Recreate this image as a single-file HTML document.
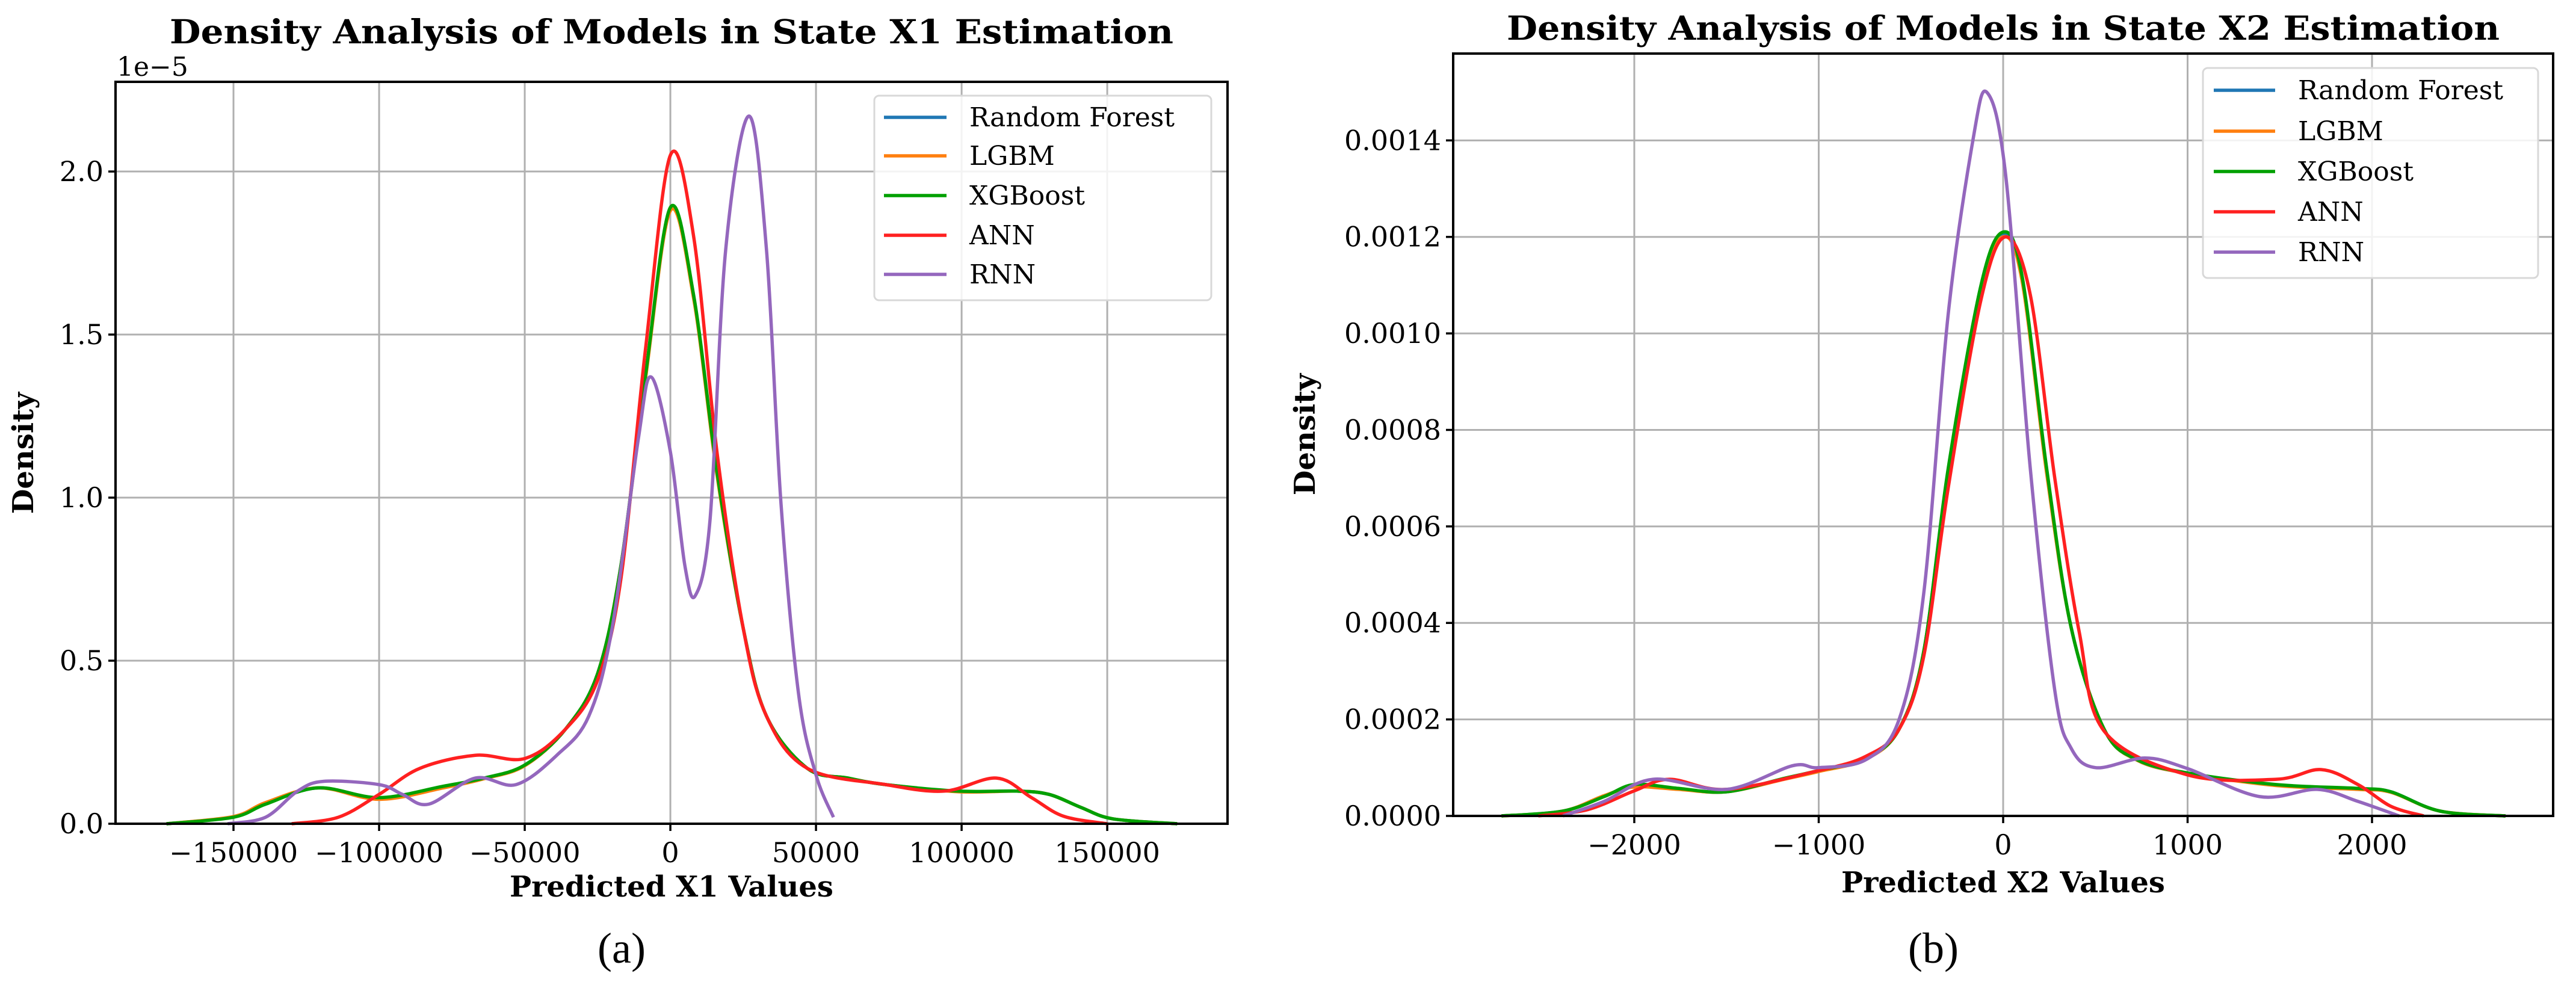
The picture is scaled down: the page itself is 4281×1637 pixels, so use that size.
<!DOCTYPE html>
<html><head><meta charset="utf-8"><style>
html,body{margin:0;padding:0;background:#fff;}
svg{display:block;font-family:"DejaVu Serif","Liberation Serif",serif;}
</style></head><body>
<svg id="fig" width="4281" height="1637" viewBox="0 0 4281 1637" xmlns="http://www.w3.org/2000/svg"></svg>
<script>
// ---- Panel A data (x in units, y in 1e-5) ----
const aTicksX = [-150000,-100000,-50000,0,50000,100000,150000];
const aTickLabelsX = ["\u2212150000","\u2212100000","\u221250000","0","50000","100000","150000"];
const aTicksY = [0,0.5,1.0,1.5,2.0];
const aTickLabelsY = ["0.0","0.5","1.0","1.5","2.0"];
const aXGBx = [-173000,-150000,-139000,-121000,-100000,-78000,-64000,-50000,-36000,-25000,-17000,-8600,0,8000,16000,25000,33000,47000,61000,74000,99000,119000,130000,141000,152000,174000];
const aXGBy = [0,0.02,0.06,0.11,0.08,0.115,0.14,0.18,0.29,0.46,0.79,1.37,1.89,1.62,1.08,0.6,0.33,0.17,0.14,0.12,0.1,0.1,0.09,0.05,0.015,0];
const aLGBy = [0,0.022,0.065,0.11,0.075,0.11,0.138,0.178,0.29,0.46,0.79,1.36,1.88,1.61,1.07,0.6,0.33,0.17,0.14,0.12,0.098,0.1,0.09,0.05,0.015,0];
const aRFy  = [0,0.021,0.062,0.11,0.078,0.112,0.139,0.179,0.29,0.46,0.79,1.365,1.885,1.615,1.075,0.6,0.33,0.17,0.14,0.12,0.099,0.1,0.09,0.05,0.015,0];
const aANNx = [-130000,-114000,-100000,-86000,-67000,-50000,-36000,-25000,-17000,-8600,0,8000,16000,25000,33000,47000,74000,94000,112000,124000,135000,150000];
const aANNy = [0,0.02,0.09,0.17,0.21,0.2,0.29,0.44,0.75,1.45,2.05,1.8,1.14,0.6,0.33,0.17,0.12,0.1,0.14,0.08,0.023,0];
const aRNNx = [-152000,-139000,-128000,-119000,-100000,-92000,-83000,-67000,-53000,-39000,-28000,-20000,-11000,-6600,0,5000,8600,13600,19000,27000,33000,38000,44000,50000,56000];
const aRNNy = [0,0.02,0.1,0.13,0.12,0.09,0.06,0.14,0.12,0.21,0.33,0.6,1.18,1.37,1.14,0.79,0.7,0.93,1.76,2.17,1.76,0.98,0.4,0.15,0.02];
// ---- Panel B data ----
const bTicksX = [-2000,-1000,0,1000,2000];
const bTickLabelsX = ["\u22122000","\u22121000","0","1000","2000"];
const bTicksY = [0,0.0002,0.0004,0.0006,0.0008,0.0010,0.0012,0.0014];
const bTickLabelsY = ["0.0000","0.0002","0.0004","0.0006","0.0008","0.0010","0.0012","0.0014"];
const bXGBx = [-2720,-2387,-2164,-2000,-1760,-1500,-1187,-1000,-742,-564,-431,-298,-120,0,102,236,369,547,724,1000,1480,1924,2102,2369,2724];
const bXGBy = [0,0.00001,0.00004,0.000065,0.000057,0.00005,0.000078,0.000094,0.00012,0.00018,0.00034,0.00072,0.0011,0.00121,0.00112,0.00072,0.00039,0.00018,0.000117,0.000089,0.000065,0.000057,0.00005,0.00001,0];
const bLGBy = [0,0.00001,0.000042,0.00006,0.000055,0.00005,0.000076,0.000092,0.000118,0.00018,0.00034,0.00071,0.00109,0.0012,0.00111,0.00071,0.00039,0.00018,0.000116,0.000088,0.000063,0.000055,0.000049,0.00001,0];
const bRFy  = [0,0.00001,0.000041,0.000062,0.000056,0.00005,0.000077,0.000093,0.000119,0.00018,0.00034,0.000715,0.001095,0.001205,0.001115,0.000715,0.00039,0.00018,0.000116,0.000088,0.000064,0.000056,0.00005,0.00001,0];
const bANNx = [-2520,-2253,-2000,-1809,-1500,-1000,-742,-564,-431,-298,-120,13,147,280,413,547,1000,1480,1724,1924,2102,2280];
const bANNy = [0,0.000013,0.000052,0.000076,0.000055,0.000094,0.000124,0.00018,0.00033,0.00068,0.00107,0.0012,0.00108,0.0007,0.00038,0.000176,0.000085,0.000076,0.000096,0.000065,0.00002,0];
const bRNNx = [-2387,-2164,-1898,-1500,-1142,-1000,-742,-564,-431,-298,-164,-89,13,147,280,369,502,769,1000,1391,1702,1924,2147];
const bRNNy = [0,0.00003,0.000076,0.000055,0.000104,0.0001,0.000117,0.0002,0.00046,0.00104,0.0014,0.0015,0.00133,0.00072,0.00026,0.00014,0.0001,0.00012,0.000098,0.00004,0.000055,0.00003,0];

const legendNames = ["Random Forest","LGBM","XGBoost","ANN","RNN"];
const colors = ["#1f77b4","#ff7f0e","#2ca02c","#ff2020","#9467bd"];
const greenC = "#00a000";

const NS = "http://www.w3.org/2000/svg";
const svg = document.getElementById('fig');
function mk(tag, attrs, parent){const e=document.createElementNS(NS,tag);for(const k in attrs)e.setAttribute(k,attrs[k]);(parent||svg).appendChild(e);return e;}
function smooth(pts){
  let d="M"+pts[0][0].toFixed(1)+","+pts[0][1].toFixed(1);
  for(let i=0;i<pts.length-1;i++){
    const p0=pts[Math.max(0,i-1)],p1=pts[i],p2=pts[i+1],p3=pts[Math.min(pts.length-1,i+2)];
    const c1=[p1[0]+(p2[0]-p0[0])/6,p1[1]+(p2[1]-p0[1])/6];
    const c2=[p2[0]-(p3[0]-p1[0])/6,p2[1]-(p3[1]-p1[1])/6];
    d+=" C"+c1[0].toFixed(1)+","+c1[1].toFixed(1)+" "+c2[0].toFixed(1)+","+c2[1].toFixed(1)+" "+p2[0].toFixed(1)+","+p2[1].toFixed(1);
  }
  return d;
}

function panel(cfg){
  const g=mk('g',{});
  
  
  const {L,R,T,B,x0,x1,y0,y1}=cfg;
  const sx=v=>L+(v-x0)/(x1-x0)*(R-L);
  const sy=v=>B-(v-y0)/(y1-y0)*(B-T);
  // grid
  cfg.ticksX.forEach((t,i)=>{
    const l=mk('line',{x1:sx(t),x2:sx(t),y1:T,y2:B,stroke:"#b0b0b0","stroke-width":3},g);
    
    
    const tk=mk('line',{x1:sx(t),x2:sx(t),y1:B,y2:B+12,stroke:"#000","stroke-width":3.5},g);
    
    
    const tx=mk('text',{x:sx(t),y:B+64,"text-anchor":"middle","font-size":46,fill:"#000"},g);
    tx.textContent=cfg.labelsX[i];
    
    
  });
  cfg.ticksY.forEach((t,i)=>{
    const l=mk('line',{x1:L,x2:R,y1:sy(t),y2:sy(t),stroke:"#b0b0b0","stroke-width":3},g);
    
    
    const tk=mk('line',{x1:L-12,x2:L,y1:sy(t),y2:sy(t),stroke:"#000","stroke-width":3.5},g);
    
    
    const tx=mk('text',{x:L-20,y:sy(t)+16,"text-anchor":"end","font-size":46,fill:"#000"},g);
    tx.textContent=cfg.labelsY[i];
    
    
  });
  // series
  cfg.series.forEach(s=>{
    const pts=s.x.map((v,i)=>[sx(v),sy(s.y[i])]);
    const p=mk('path',{d:smooth(pts),fill:"none",stroke:s.c,"stroke-width":5.5,"stroke-linejoin":"round"},g);
    
    
  });
  const fr=mk('rect',{x:L,y:T,width:R-L,height:B-T,fill:"none",stroke:"#000","stroke-width":4},g);
  
  
  // legend
  const lg=mk('g',{},g);
  
  
  const Lg=cfg.leg;
  mk('rect',{x:Lg.x,y:Lg.y,width:Lg.w,height:Lg.h,rx:8,fill:"#fff","fill-opacity":0.85,stroke:"#d8d8d8","stroke-width":3},lg);
  legendNames.forEach((n,i)=>{
    const yy=Lg.ys[i];
    const ln=mk('line',{x1:Lg.lx1,x2:Lg.lx2,y1:yy,y2:yy,stroke:i==2?greenC:colors[i],"stroke-width":5.5},lg);
    
    
    const t=mk('text',{x:Lg.tx,y:yy+15,"font-size":44,fill:"#000"},lg);
    t.textContent=n;
    
    
  });
  const ti=mk('text',{x:(L+R)/2,y:cfg.titleY,"text-anchor":"middle","font-size":55,"font-weight":"bold",textLength:cfg.titleLen,lengthAdjust:"spacingAndGlyphs"},g);
  ti.textContent=cfg.title;
  
  
  const xl=mk('text',{x:(L+R)/2,y:cfg.xlabY,"text-anchor":"middle","font-size":48,"font-weight":"bold"},g);
  xl.textContent=cfg.xlab;
  
  
  const yl=mk('text',{x:0,y:0,"text-anchor":"middle","font-size":48,"font-weight":"bold",transform:"translate("+cfg.ylabX+","+cfg.ylabY+") rotate(-90)"},g);
  yl.textContent="Density";
  
  
  const cap=mk('text',{x:cfg.capX,y:1600,"text-anchor":"middle","font-size":72,"font-family":"Liberation Serif, serif"},g);
  cap.textContent=cfg.cap;
  
  
  return g;
}

panel({name:'panel-a',L:192,R:2040,T:136,B:1369,x0:-190500,x1:191300,y0:0,y1:2.275,
  ticksX:aTicksX,labelsX:aTickLabelsX,ticksY:aTicksY,labelsY:aTickLabelsY,
  series:[{n:'rf-curve',x:aXGBx,y:aRFy,c:colors[0]},{n:'lgbm-curve',x:aXGBx,y:aLGBy,c:colors[1]},{n:'xgboost-curve',x:aXGBx,y:aXGBy,c:greenC},{n:'ann-curve',x:aANNx,y:aANNy,c:colors[3]},{n:'rnn-curve',x:aRNNx,y:aRNNy,c:colors[4]}],
  leg:{x:1453,y:159,w:560,h:340,lx1:1469,lx2:1573,tx:1611,ys:[195,259,325,391,456]},
  title:"Density Analysis of Models in State X1 Estimation",titleY:72,titleLen:1668,
  xlab:"Predicted X1 Values",xlabY:1490,ylabX:55,ylabY:753,capX:1033,cap:"(a)"});
const ex=mk('text',{x:194,y:126,"font-size":44});
ex.textContent="1e\u22125";



panel({name:'panel-b',L:2415,R:4243,T:89,B:1356,x0:-2982,x1:2982,y0:0,y1:0.00158,
  ticksX:bTicksX,labelsX:bTickLabelsX,ticksY:bTicksY,labelsY:bTickLabelsY,
  series:[{n:'rf-curve',x:bXGBx,y:bRFy,c:colors[0]},{n:'lgbm-curve',x:bXGBx,y:bLGBy,c:colors[1]},{n:'xgboost-curve',x:bXGBx,y:bXGBy,c:greenC},{n:'ann-curve',x:bANNx,y:bANNy,c:colors[3]},{n:'rnn-curve',x:bRNNx,y:bRNNy,c:colors[4]}],
  leg:{x:3661,y:113,w:557,h:349,lx1:3679,lx2:3781,tx:3819,ys:[150,218,285,352,419]},
  title:"Density Analysis of Models in State X2 Estimation",titleY:66,titleLen:1650,
  xlab:"Predicted X2 Values",xlabY:1483,ylabX:2185,ylabY:722,capX:3213,cap:"(b)"});
</script>
</body></html>
